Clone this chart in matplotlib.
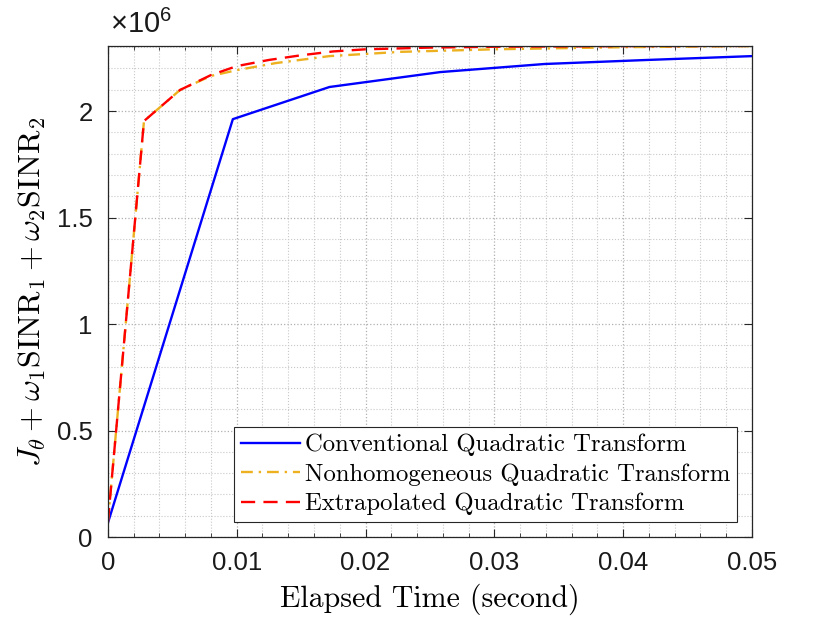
import matplotlib
matplotlib.use("Agg")
import matplotlib.pyplot as plt
from matplotlib.ticker import MultipleLocator, FuncFormatter

plt.rcParams['mathtext.fontset'] = 'cm'
plt.rcParams['font.family'] = ['Liberation Sans', 'DejaVu Sans']

# data (y values in units of 1e6)
t_conv = [0, 0.0097, 0.0172, 0.0258, 0.0339, 0.0419, 0.0500]
f_conv = [0.066, 1.962, 2.113, 2.183, 2.221, 2.240, 2.258]

t_nonh = [0, 0.0028, 0.0056, 0.0080, 0.0100, 0.0130, 0.0172, 0.0227, 0.0300, 0.0400, 0.0500]
f_nonh = [0.070, 1.953, 2.099, 2.165, 2.192, 2.225, 2.258, 2.278, 2.290, 2.300, 2.305]

t_extr = [0, 0.0028, 0.0056, 0.0080, 0.0100, 0.0125, 0.0150, 0.0175, 0.0200, 0.0250, 0.0300, 0.0400, 0.0500]
f_extr = [0.070, 1.953, 2.099, 2.169, 2.211, 2.240, 2.262, 2.280, 2.290, 2.298, 2.302, 2.305, 2.306]

labels = ['Conventional Quadratic Transform',
          'Nonhomogeneous Quadratic Transform',
          'Extrapolated Quadratic Transform']

fig = plt.figure(figsize=(8.3, 6.23), dpi=100)
ax = fig.add_axes([0.130, 0.138, 0.776, 0.788])

ax.plot(t_conv, [v * 1e6 for v in f_conv], color='#0000FF', lw=1.7, label=labels[0])
ax.plot(t_nonh, [v * 1e6 for v in f_nonh], color='#EDB120', lw=1.7,
        dashes=(5, 2.5, 1, 2.5), label=labels[1])
ax.plot(t_extr, [v * 1e6 for v in f_extr], color='#FF0000', lw=1.7,
        dashes=(6, 3.5), label=labels[2])

ax.set_xlim(0, 0.05)
ax.set_ylim(0, 2.305e6)
ax.xaxis.set_major_locator(MultipleLocator(0.01))
ax.xaxis.set_minor_locator(MultipleLocator(0.002))
ax.yaxis.set_major_locator(MultipleLocator(0.5e6))
ax.yaxis.set_minor_locator(MultipleLocator(0.1e6))
ax.xaxis.set_major_formatter(FuncFormatter(lambda v, p: '%g' % round(v, 4)))
ax.yaxis.set_major_formatter(FuncFormatter(lambda v, p: '%g' % round(v / 1e6, 3)))

ax.grid(which='major', ls=':', color='#b0b0b0', lw=0.9)
ax.grid(which='minor', ls=':', color='#c8c8c8', lw=0.8)
ax.set_axisbelow(True)

ax.tick_params(which='both', direction='in', top=True, right=True, colors='#262626',
               labelsize=18.5, labelcolor='#1a1a1a')
ax.tick_params(which='major', length=6, width=0.8)
ax.tick_params(axis='x', which='major', pad=10)
ax.tick_params(axis='y', which='major', pad=11)
ax.tick_params(axis='x', which='minor', length=3, width=0.6)
ax.tick_params(axis='y', which='minor', length=0)
for s in ax.spines.values():
    s.set_color('#262626')
    s.set_linewidth(0.9)

ax.text(0.003, 1.014, r'$\mathregular{\times10^{6}}$', transform=ax.transAxes,
        fontsize=21, ha='left', va='bottom', family='Liberation Sans', color='#1a1a1a')

ax.set_xlabel('Elapsed Time (second)', family='cmr10', fontsize=21.5, labelpad=6)
ax.set_ylabel(r'$J_\theta + \omega_1\mathrm{SINR}_1 + \omega_2\mathrm{SINR}_2$',
              fontsize=23, labelpad=6)

leg = ax.legend(loc='lower right', prop={'family': 'cmr10', 'size': 17.8},
                fancybox=False, framealpha=1, edgecolor='#262626',
                handlelength=2.4, handletextpad=0.2, borderpad=0.28,
                labelspacing=0.28, borderaxespad=0.6)
leg.get_frame().set_linewidth(0.8)

fig.savefig('out.png', dpi=100)
